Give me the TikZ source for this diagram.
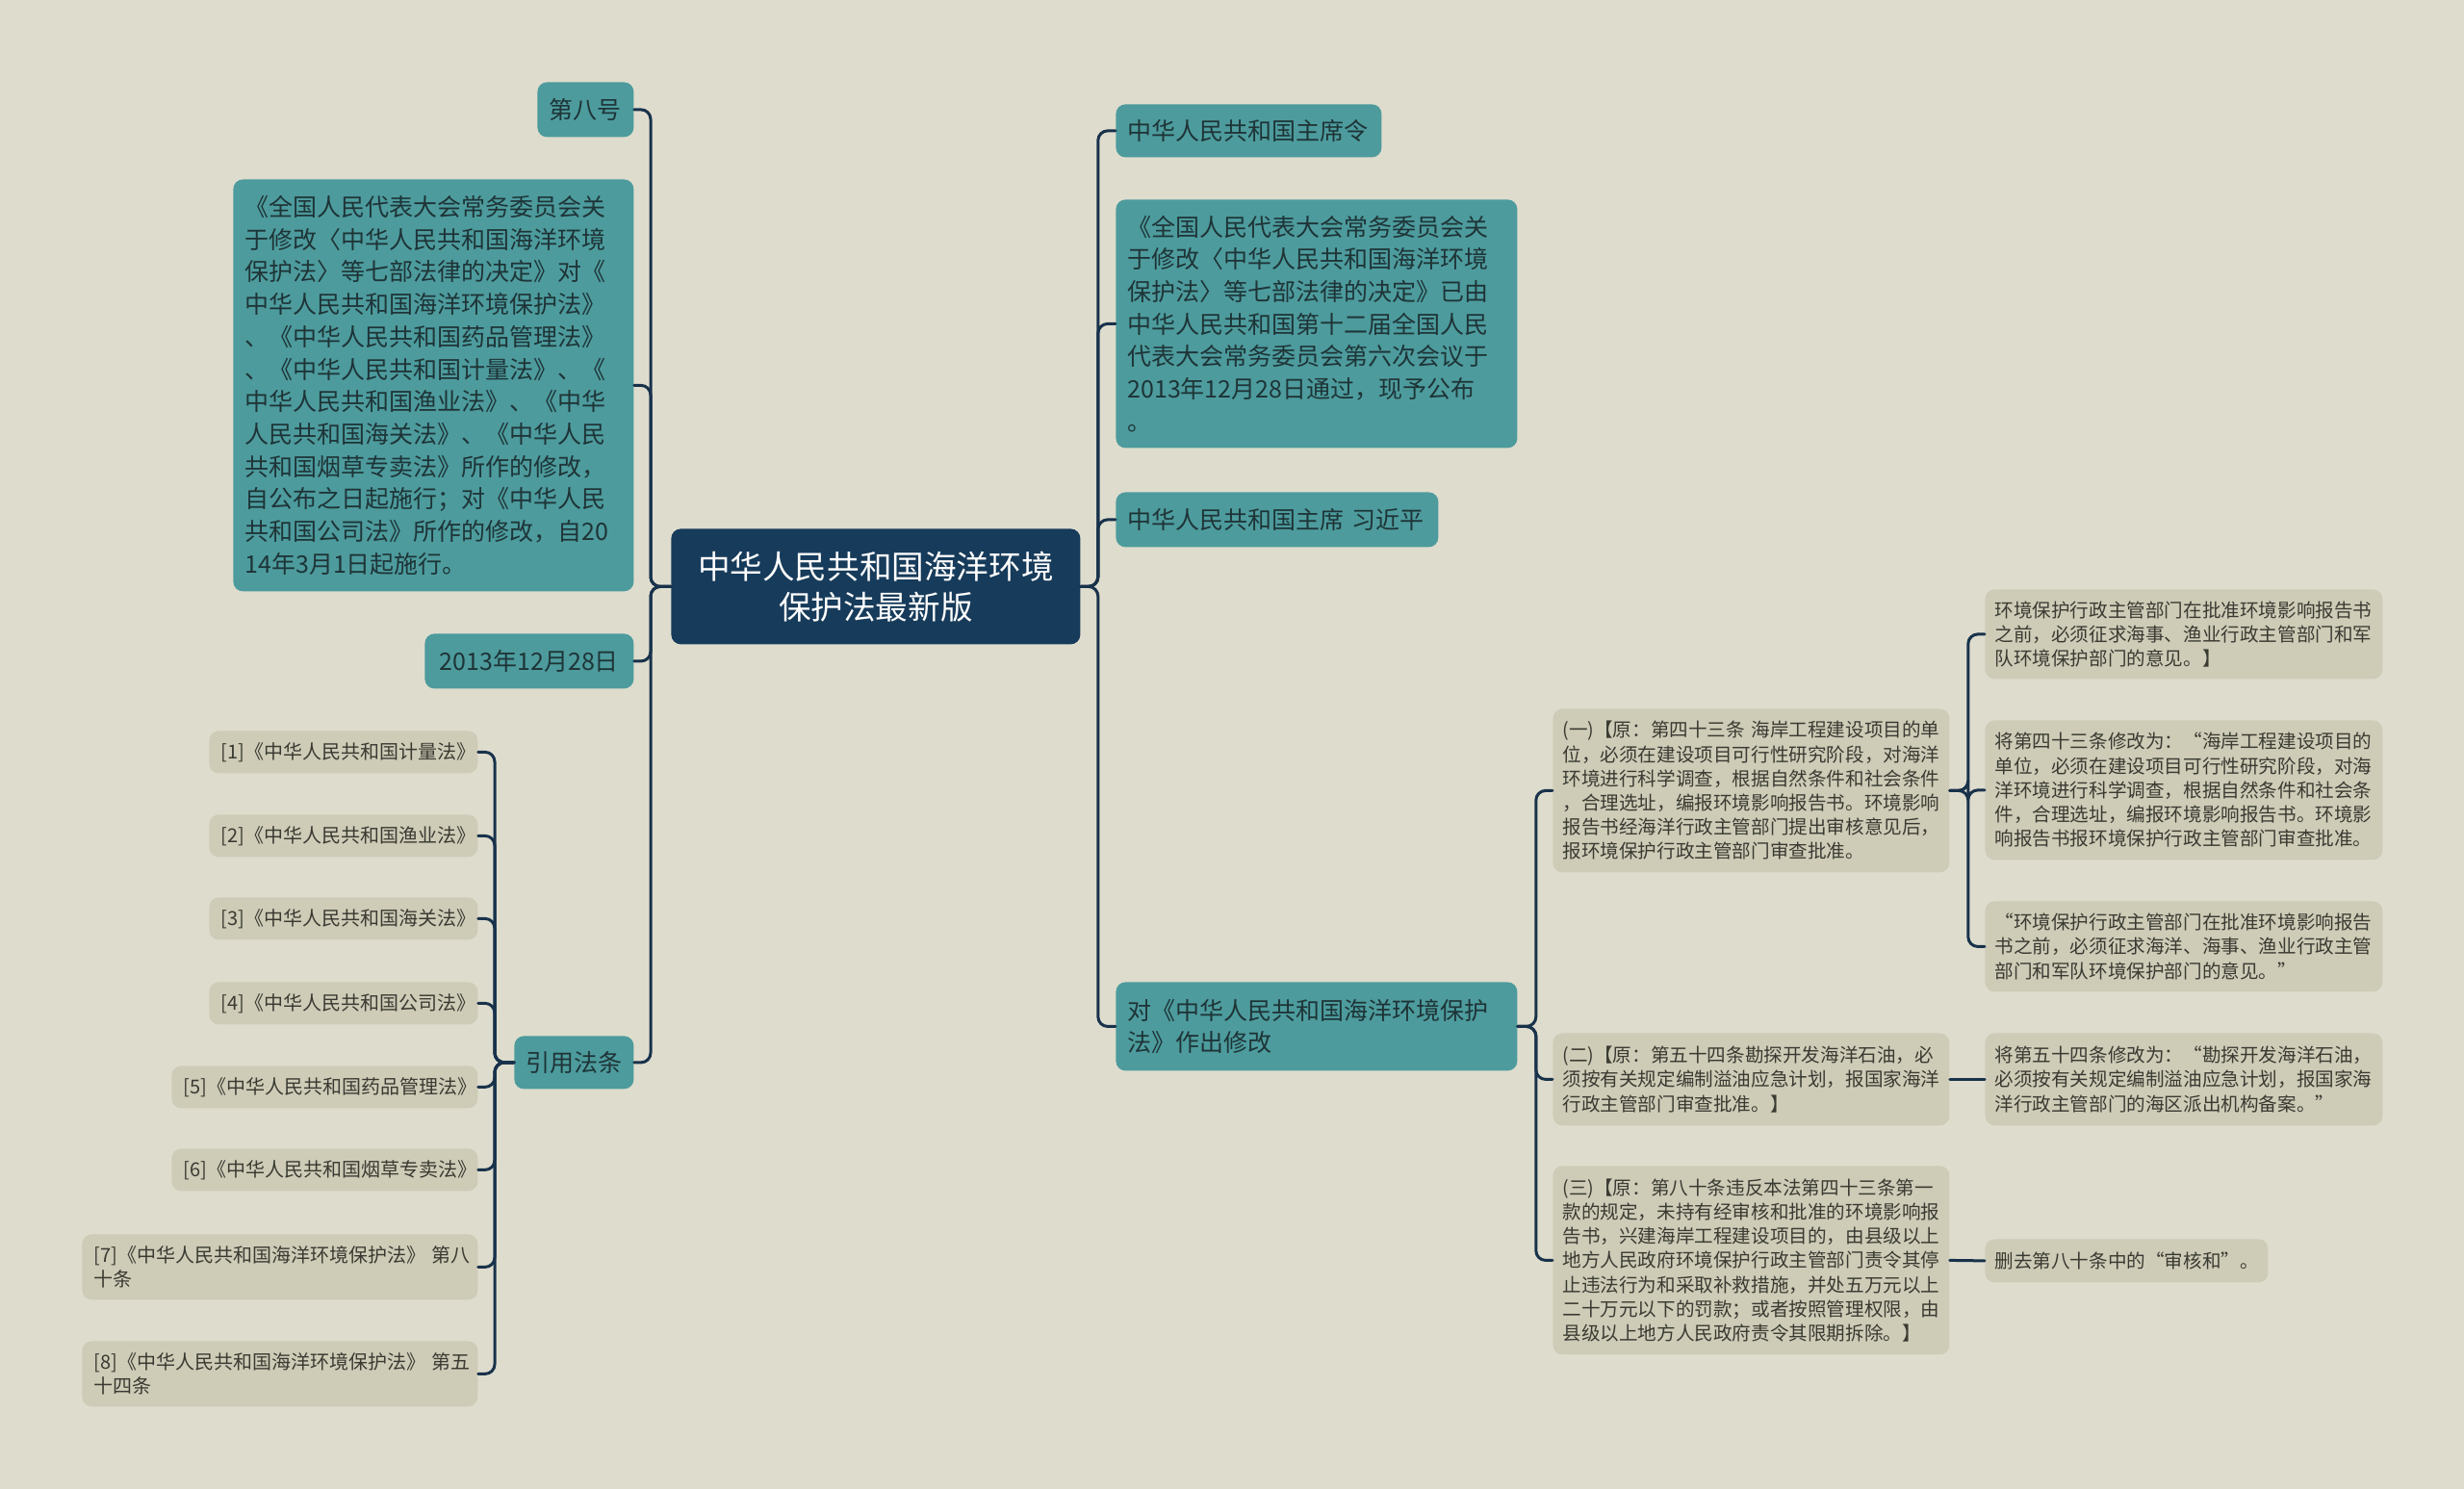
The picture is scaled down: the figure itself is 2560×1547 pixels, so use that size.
\documentclass[tikz,border=0pt]{standalone}
\usepackage{fontspec}
\setmainfont{Noto Sans CJK SC}
\definecolor{paper}{RGB}{222,220,205}
\definecolor{tealfill}{RGB}{77,155,157}
\definecolor{tealink}{RGB}{30,52,55}
\definecolor{navyfill}{RGB}{23,59,90}
\definecolor{greyfill}{RGB}{206,204,183}
\definecolor{greyink}{RGB}{58,58,50}
\definecolor{linkcol}{RGB}{24,50,75}
\tikzset{
  box/.style={rounded corners=5pt, anchor=north west, inner ysep=0pt, align=left},
  tealbox/.style={box, fill=tealfill, text=tealink, inner xsep=6pt, font=\fontsize{12.5}{16.85}\selectfont},
  greybox/.style={box, fill=greyfill, text=greyink, inner xsep=5pt, font=\fontsize{9.8}{12.6}\selectfont},
  citebox/.style={greybox, inner xsep=6pt, font=\fontsize{10}{12.4}\selectfont},
  link/.style={draw=linkcol, line width=1.5pt, rounded corners=5pt},
}
\begin{document}
\begin{tikzpicture}[x=0.5pt, y=-0.5pt, line join=round, line cap=round]
	\fill[paper] (0,0) rectangle (2560,1547);
	\useasboundingbox (0,0) rectangle (2560,1547);
	% root
	\node[box, fill=navyfill, text=white, inner xsep=6pt, text width=200.5pt, minimum height=60pt, align=center, font=\fontsize{16.8}{21}\selectfont] (root) at (697,549) {中华人民共和国海洋环境\\保护法最新版};
	% left branch
	\node[tealbox, text width=38pt, minimum height=28.5pt, align=center] (num8) at (558,85) {第八号};
	\node[tealbox, text width=196pt, minimum height=214pt] (decision) at (242,186) {《全国人民代表大会常务委员会关\\于修改〈中华人民共和国海洋环境\\保护法〉等七部法律的决定》对《\\中华人民共和国海洋环境保护法》\\、《中华人民共和国药品管理法》\\、《中华人民共和国计量法》、《\\中华人民共和国渔业法》、《中华\\人民共和国海关法》、《中华人民\\共和国烟草专卖法》所作的修改，\\自公布之日起施行；对《中华人民\\共和国公司法》所作的修改，自20\\14年3月1日起施行。};
	\node[tealbox, text width=96.5pt, minimum height=28.5pt, align=center] (date) at (441,658) {2013年12月28日};
	\node[tealbox, text width=50pt, minimum height=27.5pt, align=center] (refs) at (534,1076) {引用法条};
	\foreach \i/\y/\x/\w/\t in {1/759/217/127.5/计量法, 2/846/217/127.5/渔业法, 3/932/217/127.5/海关法, 4/1020/217/127.5/公司法, 5/1107/178/147/药品管理法, 6/1193/178/147/烟草专卖法}{
		\node[citebox, text width=\w pt, minimum height=22pt] (ref\i) at (\x,\y) {[\i]《中华人民共和国\t》};
	}
	\node[citebox, text width=193.5pt, minimum height=34pt] (ref7) at (85,1282) {[7]《中华人民共和国海洋环境保护法》~第八\\十条};
	\node[citebox, text width=193.5pt, minimum height=34pt] (ref8) at (85,1393) {[8]《中华人民共和国海洋环境保护法》~第五\\十四条};
	% right branch
	\node[tealbox, text width=126pt, minimum height=27.5pt] (order) at (1159,108) {中华人民共和国主席令};
	\node[tealbox, text width=196.5pt, minimum height=129pt] (passed) at (1159,207) {《全国人民代表大会常务委员会关\\于修改〈中华人民共和国海洋环境\\保护法〉等七部法律的决定》已由\\中华人民共和国第十二届全国人民\\代表大会常务委员会第六次会议于\\2013年12月28日通过，现予公布\\。};
	\node[tealbox, text width=155.5pt, minimum height=28.5pt] (president) at (1159,511) {中华人民共和国主席~习近平};
	\node[tealbox, text width=196.5pt, minimum height=46pt] (amend) at (1159,1020) {对《中华人民共和国海洋环境保护\\法》作出修改};
	\node[greybox, text width=196pt, minimum height=85pt] (item1) at (1613,736) {(一)【原：第四十三条~海岸工程建设项目的单\\位，必须在建设项目可行性研究阶段，对海洋\\环境进行科学调查，根据自然条件和社会条件\\，合理选址，编报环境影响报告书。环境影响\\报告书经海洋行政主管部门提出审核意见后，\\报环境保护行政主管部门审查批准。};
	\node[greybox, text width=196pt, minimum height=48pt] (item2) at (1613,1073) {(二)【原：第五十四条勘探开发海洋石油，必\\须按有关规定编制溢油应急计划，报国家海洋\\行政主管部门审查批准。】};
	\node[greybox, text width=196pt, minimum height=98pt] (item3) at (1613,1211) {(三)【原：第八十条违反本法第四十三条第一\\款的规定，未持有经审核和批准的环境影响报\\告书，兴建海岸工程建设项目的，由县级以上\\地方人民政府环境保护行政主管部门责令其停\\止违法行为和采取补救措施，并处五万元以上\\二十万元以下的罚款；或者按照管理权限，由\\县级以上地方人民政府责令其限期拆除。】};
	\node[greybox, text width=196.5pt, minimum height=46.5pt] (rev1) at (2062,612) {环境保护行政主管部门在批准环境影响报告书\\之前，必须征求海事、渔业行政主管部门和军\\队环境保护部门的意见。】};
	\node[greybox, text width=196.5pt, minimum height=72.5pt] (rev2) at (2062,748) {将第四十三条修改为：“海岸工程建设项目的\\单位，必须在建设项目可行性研究阶段，对海\\洋环境进行科学调查，根据自然条件和社会条\\件，合理选址，编报环境影响报告书。环境影\\响报告书报环境保护行政主管部门审查批准。};
	\node[greybox, text width=196.5pt, minimum height=47pt] (rev3) at (2062,936) {“环境保护行政主管部门在批准环境影响报告\\书之前，必须征求海洋、海事、渔业行政主管\\部门和军队环境保护部门的意见。”};
	\node[greybox, text width=196.5pt, minimum height=48pt] (rev4) at (2062,1073) {将第五十四条修改为：“勘探开发海洋石油，\\必须按有关规定编制溢油应急计划，报国家海\\洋行政主管部门的海区派出机构备案。”};
	\node[greybox, text width=137pt, minimum height=22.5pt] (rev5) at (2062,1287) {删去第八十条中的“审核和”。};
	% connectors
	\foreach \n in {num8,decision,date,refs}
		\draw[link] (root.west) -- ++(-21,0) |- (\n.east);
	\foreach \n in {ref1,ref2,ref3,ref4,ref5,ref6,ref7,ref8}
		\draw[link] (refs.west) -- ++(-20,0) |- (\n.east);
	\foreach \n in {order,passed,president,amend}
		\draw[link] (root.east) -- ++(18,0) |- (\n.west);
	\foreach \n in {item1,item2,item3}
		\draw[link] (amend.east) -- ++(19,0) |- (\n.west);
	\foreach \n in {rev1,rev2,rev3}
		\draw[link] (item1.east) -- ++(19,0) |- (\n.west);
	\draw[link] (item2.east) -- (rev4.west);
	\draw[link] (item3.east) -- (rev5.west);
\end{tikzpicture}
\end{document}
